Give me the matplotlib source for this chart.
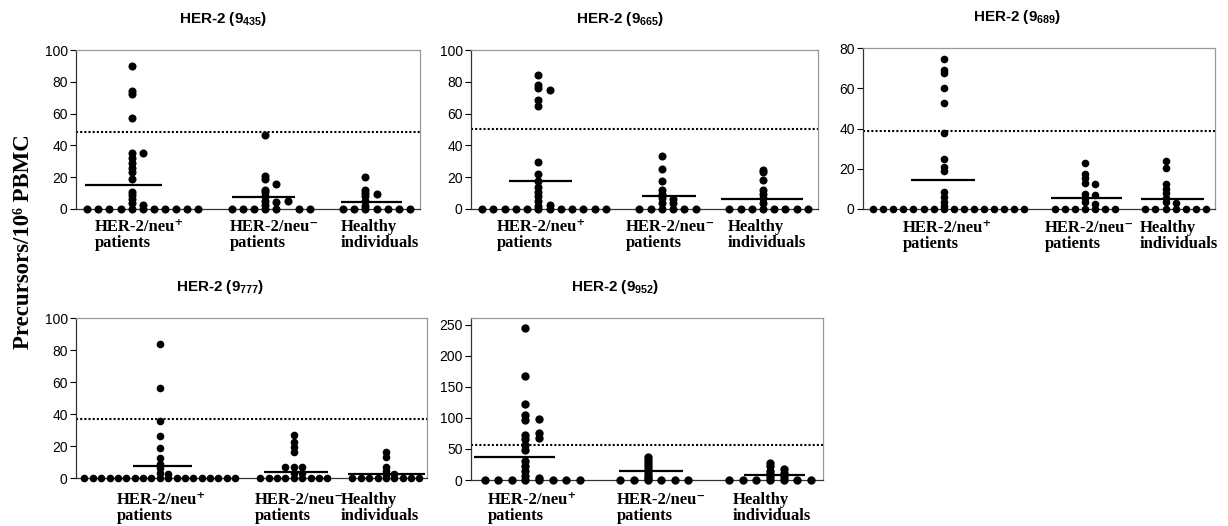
import numpy as np
import matplotlib
matplotlib.use("Agg")
import matplotlib.pyplot as plt

plt.rcParams["font.family"] = "Liberation Sans"
plt.rcParams["mathtext.fontset"] = "custom"
plt.rcParams["mathtext.rm"] = "Liberation Sans:bold"
plt.rcParams["mathtext.it"] = "Liberation Sans:bold"
plt.rcParams["mathtext.bf"] = "Liberation Sans:bold"
plt.rcParams["mathtext.sf"] = "Liberation Sans:bold"

W, H = 1228, 526
SERIF = ["Liberation Serif", "DejaVu Serif"]

# ---- data: each group is a list of dot columns (values per column) ----
Z = [0]
peptides = ["435", "665", "689", "777", "952"]
group_labels = ["HER-2/neu\u207a\npatients", "HER-2/neu\u207b\npatients", "Healthy\nindividuals"]

pos_435 = [Z] * 4 + [[90, 74.5, 72.5, 57, 35.5, 32, 29, 26, 23, 19, 11, 8.5, 6, 3.5, 0], [35.5, 2.5, 0]] + [Z] * 5
neg_435 = [Z] * 3 + [[46.5, 20.5, 19, 12, 10.5, 8, 5, 2.5, 0], [15.5, 4.5, 0], [5]] + [Z] * 2
hlt_435 = [Z] * 2 + [[20, 12, 10, 8, 5, 2, 0], [9.5, 0]] + [Z] * 3

pos_665 = [Z] * 5 + [[84.5, 78, 76, 68.5, 64.5, 29.5, 22, 17.5, 14, 11, 8, 5, 2, 0], [75, 2.5, 0]] + [Z] * 5
neg_665 = [Z] * 2 + [[33.5, 25, 17.5, 12, 9.5, 7, 4, 0], [6.5, 3.5, 0]] + [Z] * 2
hlt_665 = [Z] * 3 + [[24.5, 23, 18, 12, 9.5, 7, 4, 0]] + [Z] * 4

pos_689 = [Z] * 7 + [[74.5, 69, 67.5, 60, 52.5, 38, 25, 21, 19, 8.5, 6, 3.5, 1.5, 0]] + [Z] * 8
neg_689 = [Z] * 3 + [[23, 17.5, 15.5, 13, 7.5, 5.5, 3.5, 0], [12.5, 7, 2.5, 0]] + [Z] * 2
hlt_689 = [Z] * 2 + [[24, 20.5, 12.5, 10, 8, 5.5, 3.5, 0], [3, 0]] + [Z] * 3

pos_777 = [Z] * 9 + [[84, 56, 35.5, 26, 18.5, 12.5, 9, 6, 3, 0], [2.5, 0]] + [Z] * 8
neg_777 = [Z] * 3 + [[7, 0], [27, 22.5, 19.5, 16.5, 7, 3, 0], [7, 3, 0]] + [Z] * 3
hlt_777 = [Z] * 4 + [[16, 13, 7, 4.5, 2, 0], [2.5, 0]] + [Z] * 3

pos_952 = [Z] * 3 + [[245, 167, 122, 104, 96, 73, 66, 57, 49, 30, 22, 14, 6, 0], [98, 76.5, 67.5, 3, 0]] + [Z] * 3
neg_952 = [Z] * 2 + [[37, 32, 27, 22, 17, 12, 7, 3, 0]] + [Z] * 3
hlt_952 = [Z] * 3 + [[28, 22, 15, 10, 5, 0], [18, 12, 5, 0]] + [Z] * 2

groups = {
    "435": [pos_435, neg_435, hlt_435],
    "665": [pos_665, neg_665, hlt_665],
    "689": [pos_689, neg_689, hlt_689],
    "777": [pos_777, neg_777, hlt_777],
    "952": [pos_952, neg_952, hlt_952],
}
means = {
    "435": [15.3, 7.7, 4.6],
    "665": [17.4, 7.9, 6.3],
    "689": [14.6, 5.7, 5.2],
    "777": [7.3, 3.9, 2.7],
    "952": [37.6, 15, 8.6],
}
cutoffs = [48.3, 50.5, 38.9, 36.8, 56.3]
ymax = [100, 100, 80, 100, 261]
ystep = [20, 20, 20, 20, 50]

# ---- layout (pixels) ----
ax_box = [(76, 50, 420, 209), (471, 50, 818, 209), (863, 48, 1215, 209),
          (76, 318, 427, 478), (471, 318, 823, 480)]
mean_spans = [
    [(-0.2, 6.7), (13.0, 18.7), (22.8, 28.3)],
    [(2.4, 8.0), (14.25, 19.0), (21.3, 28.6)],
    [(3.8, 10.1), (17.6, 24.7), (26.6, 32.8)],
    [(5.8, 12.9), (21.5, 29.1), (31.5, 40.7)],
    [(-0.8, 5.2), (9.9, 14.6), (19.1, 23.6)],
]
title_xy = [(223, 19), (620, 19), (1017, 17), (220, 287), (615, 287)]
label_x = [(95, 230, 341), (497, 626, 728), (903, 1045, 1140), (117, 255, 341), (488, 617, 733)]
label_top = [219, 219, 220, 492, 492]
dot_ms = [5.8, 5.8, 5.5, 5.5, 6.0]

fig = plt.figure(figsize=(W / 100, H / 100), dpi=100)

for i, p in enumerate(peptides):
    l, t, r, b = ax_box[i]
    ax = fig.add_axes([l / W, 1 - b / H, (r - l) / W, (b - t) / H])
    pos = 0
    for cols in groups[p]:
        for col in cols:
            ax.plot([pos] * len(col), col, "o", color="black", ms=dot_ms[i],
                    mew=0, clip_on=False, zorder=3)
            pos += 1
        pos += 2
    last = pos - 3
    for (x0, x1), m in zip(mean_spans[i], means[p]):
        ax.plot([x0, x1], [m, m], color="black", lw=1.6, zorder=4, solid_capstyle="butt")
    ax.axhline(cutoffs[i], color="black", lw=1.5, ls=(0, (1, 1)), zorder=2)
    ax.set_xlim(-1, last + 0.9)
    ax.set_ylim(0, ymax[i])
    ax.set_xticks([])
    ax.set_yticks(np.arange(0, ymax[i] + 1, ystep[i]))
    ax.tick_params(axis="y", length=4, width=0.8, pad=2, labelsize=10, colors="black")
    for s in ["left", "bottom"]:
        ax.spines[s].set_color("#333333")
        ax.spines[s].set_linewidth(0.9)
    for s in ["top", "right"]:
        ax.spines[s].set_color("#999999")
        ax.spines[s].set_linewidth(0.9)

    cx, cy = title_xy[i]
    fig.text(cx / W, 1 - cy / H, "HER-2 (9$_\\mathsf{" + p + "}$)", ha="center", va="center",
             fontsize=11, fontweight="bold")
    for lx, lbl in zip(label_x[i], group_labels):
        fig.text(lx / W, 1 - label_top[i] / H, lbl, ha="left", va="top",
                 family=SERIF, fontweight="bold", fontsize=12, linespacing=1.0)

fig.text(24 / W, 1 - 242 / H, "Precursors/10\u2076 PBMC", rotation=90, ha="center", va="center",
         family=SERIF, fontweight="bold", fontsize=16.5)

fig.savefig("out.png", dpi=100)
